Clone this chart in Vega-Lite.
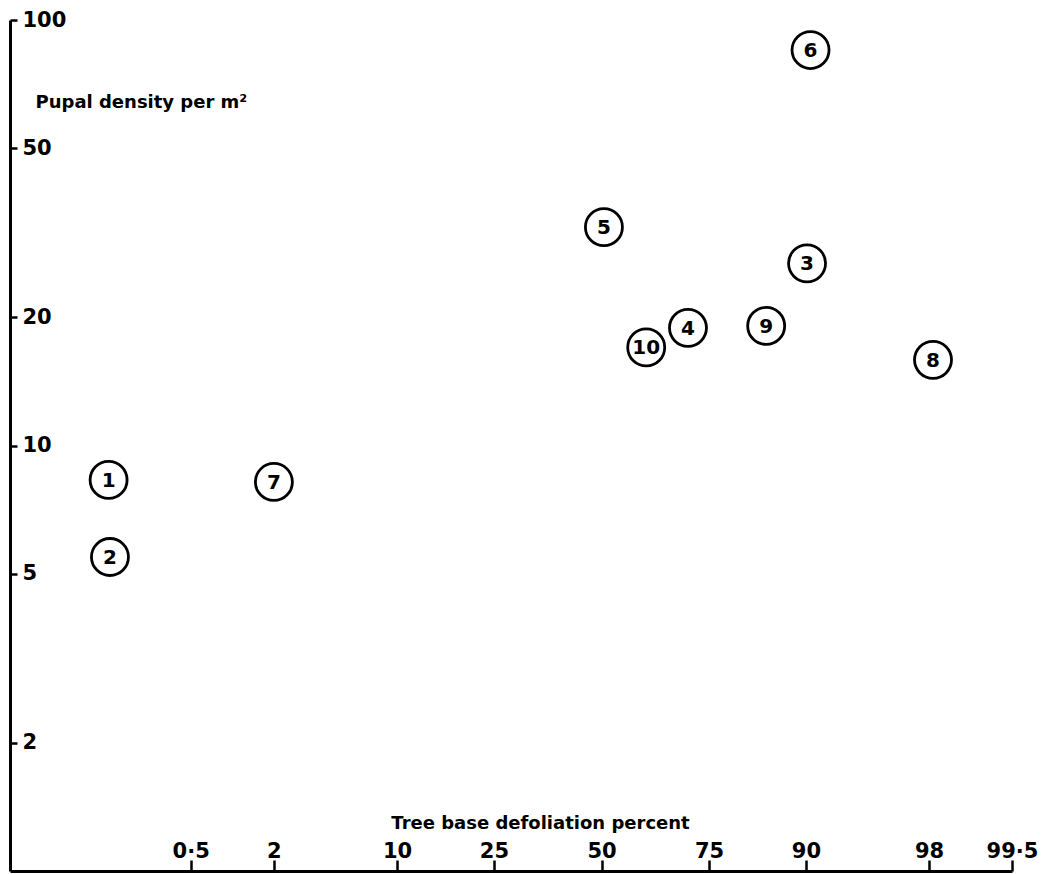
{
  "$schema": "https://vega.github.io/schema/vega-lite/v6.json",
  "width": 1002,
  "height": 851,
  "autosize": "none",
  "padding": {"left": 10, "top": 20, "right": 43, "bottom": 3},
  "background": "white",
  "config": {
    "view": {"stroke": null},
    "font": "DejaVu Sans",
    "axis": {
      "grid": false,
      "domainColor": "black",
      "domainWidth": 3,
      "tickColor": "black",
      "tickWidth": 2.5,
      "labelColor": "black",
      "labelFont": "DejaVu Sans",
      "labelFontWeight": "bold",
      "labelFontSize": 21,
      "labelFlush": false,
      "labelOverlap": false,
      "labelBound": false,
      "titleColor": "black",
      "titleFont": "DejaVu Sans",
      "titleFontWeight": "bold",
      "titleFontSize": 18
    }
  },
  "data": {
    "values": [
      {"site": "1", "defoliation": 0.1, "density": 8.3},
      {"site": "2", "defoliation": 0.104, "density": 5.47},
      {"site": "7", "defoliation": 2.0, "density": 8.21},
      {"site": "5", "defoliation": 50.6, "density": 32.6},
      {"site": "10", "defoliation": 61.0, "density": 17.0},
      {"site": "4", "defoliation": 70.6, "density": 18.9},
      {"site": "9", "defoliation": 84.9, "density": 19.1},
      {"site": "3", "defoliation": 90.1, "density": 26.8},
      {"site": "6", "defoliation": 90.4, "density": 85.0},
      {"site": "8", "defoliation": 98.09, "density": 15.9}
    ]
  },
  "encoding": {
    "x": {
      "field": "defoliation",
      "type": "quantitative",
      "scale": {
        "type": "linear",
        "domain": [0.01, 0.05, 0.1, 0.2, 0.5, 1, 2, 5, 10, 20, 25, 30, 40, 50, 60, 70, 75, 80, 85, 90, 95, 98, 99, 99.5],
        "range": [0, 66.7, 98.6, 132.4, 180.7, 220.5, 263.9, 329.1, 387.1, 457.3, 483.9, 507.9, 551.1, 591.5, 631.9, 675.1, 699.1, 725.7, 756.8, 795.9, 853.9, 919.1, 962.5, 1002],
        "nice": false,
        "zero": false
      },
      "axis": {
        "orient": "bottom",
        "values": [0.5, 2, 10, 25, 50, 75, 90, 98, 99.5],
        "labelExpr": "replace(toString(datum.value), '.', '·')",
        "tickSize": -11,
        "labelPadding": -3,
        "labelBaseline": "alphabetic",
        "labelAlign": "center",
        "title": "Tree base defoliation percent",
        "titleX": 530,
        "titleY": -43,
        "titleBaseline": "alphabetic",
        "titleAlign": "center",
        "titleAnchor": null
      }
    },
    "y": {
      "field": "density",
      "type": "quantitative",
      "scale": {"type": "log", "domain": [1, 100], "nice": false},
      "axis": {
        "orient": "left",
        "values": [2, 5, 10, 20, 50, 100],
        "labelExpr": "toString(datum.value)",
        "tickSize": -7,
        "labelPadding": -5,
        "labelAlign": "left",
        "labelBaseline": "middle",
        "title": "Pupal density per m²",
        "titleAngle": 0,
        "titleX": 25,
        "titleY": 87,
        "titleAlign": "left",
        "titleBaseline": "alphabetic",
        "titleAnchor": null
      }
    }
  },
  "layer": [
    {
      "mark": {"type": "point", "shape": "circle", "filled": false, "stroke": "black", "strokeWidth": 2.8, "size": 1369, "opacity": 1}
    },
    {
      "mark": {"type": "text", "fontSize": 20, "fontWeight": "bold", "font": "DejaVu Sans", "align": "center", "baseline": "middle", "color": "black", "dy": 1},
      "encoding": {"text": {"field": "site"}}
    }
  ]
}
